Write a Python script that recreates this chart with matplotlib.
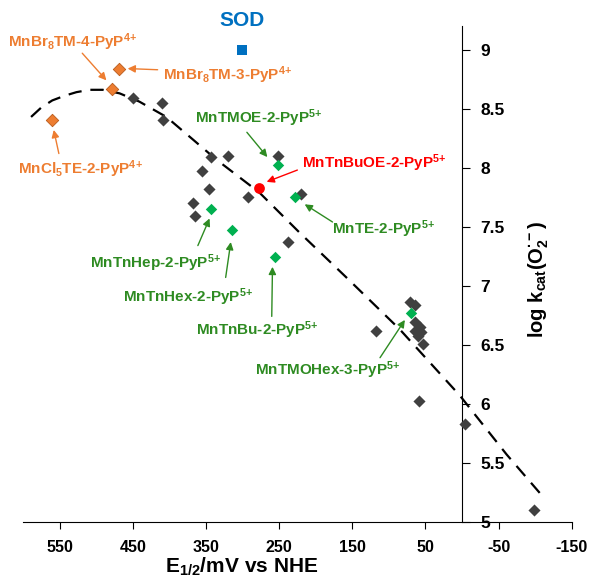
import numpy as np
import matplotlib
matplotlib.use("Agg")
import matplotlib.pyplot as plt

plt.rcParams['font.family'] = ['Liberation Sans', 'DejaVu Sans']
plt.rcParams['font.weight'] = 'bold'
plt.rcParams['axes.labelweight'] = 'bold'
plt.rcParams['mathtext.fontset'] = 'custom'
plt.rcParams['mathtext.rm'] = 'Liberation Sans:bold'
plt.rcParams['mathtext.bf'] = 'Liberation Sans:bold'
plt.rcParams['mathtext.it'] = 'Liberation Sans:bold'
plt.rcParams['mathtext.default'] = 'bf'

# ---------- datos ----------
# E1/2 (mV vs NHE) y log kcat de las porfirinas "genericas"
e_other = [450, 410, 409, 343, 320, 356, 346, 293, 368, 365, 238, 251, 220,
           118, 71.5, 64.6, 64.6, 57.8, 64.6, 55.5, 60.5, 53.7, 59, -4, -99]
k_other = [8.59, 8.55, 8.40, 8.09, 8.10, 7.97, 7.82, 7.75, 7.70, 7.59, 7.37, 8.10, 7.78,
           6.62, 6.86, 6.84, 6.69, 6.65, 6.62, 6.61, 6.57, 6.51, 6.02, 5.83, 5.10]

# halogenadas (naranja)
orange_names = [r"MnBr$_8$TM-4-PyP$^{4\!+}$", r"MnBr$_8$TM-3-PyP$^{4\!+}$", r"MnCl$_5$TE-2-PyP$^{4\!+}$"]
e_orange = [479, 469, 561]
k_orange = [8.67, 8.84, 8.40]

# alquil / alcoxi piridil (verde)
green_names = [r"MnTMOE-2-PyP$^{5\!+}$", r"MnTE-2-PyP$^{5\!+}$", r"MnTnHep-2-PyP$^{5\!+}$",
               r"MnTnHex-2-PyP$^{5\!+}$", r"MnTnBu-2-PyP$^{5\!+}$", r"MnTMOHex-3-PyP$^{5\!+}$"]
e_green = [252, 228, 343.5, 314.5, 255, 70]
k_green = [8.02, 7.75, 7.65, 7.47, 7.24, 6.77]

red_name = r"MnTnBuOE-2-PyP$^{5\!+}$"
e_red = [278]
k_red = [7.83]

e_sod = [301]
k_sod = [9.0]

# curva de tendencia
e_fit = [589, 575, 560, 543, 527, 509, 491, 468, 441, 404, 368, 336, 277, 222, 158, 85, 3, -61, -111]
k_fit = [8.43, 8.51, 8.57, 8.61, 8.64, 8.66, 8.66, 8.63, 8.56, 8.43, 8.24, 8.07, 7.79, 7.45, 7.07, 6.63, 6.07, 5.57, 5.21]

ORANGE = '#ED7D31'
GREEN_TXT = '#2E8B22'
GREEN_MK = '#00B050'
RED = '#FF0000'
BLUE = '#0070C0'
DARK = '#404040'

# ---------- figura ----------
fig = plt.figure(figsize=(5.9, 5.77), dpi=100)
ax = fig.add_axes([0.039, 0.0958, 0.930, 0.859])

ax.plot(e_fit, k_fit, ls=(0, (6, 4)), color='black', lw=1.6, zorder=2)
ax.scatter(e_other, k_other, marker='D', s=38, color=DARK, zorder=3, linewidths=0)
ax.scatter(e_orange, k_orange, marker='D', s=40, color=ORANGE, edgecolors='#B85A1A',
           linewidths=0.6, zorder=3)
ax.scatter(e_green, k_green, marker='D', s=34, color=GREEN_MK, zorder=4, linewidths=0)
ax.scatter(e_red, k_red, marker='o', s=60, color=RED, zorder=4, linewidths=0)
ax.scatter(e_sod, k_sod, marker='s', s=55, color=BLUE, zorder=4, linewidths=0)

ax.text(e_sod[0], 9.25, "SOD", color=BLUE, fontsize=15, ha='center', va='center')

# etiquetas: (texto, color, pos texto, cola flecha, cabeza flecha)
labels = [
    (orange_names[0], ORANGE, (620, 9.06), (519, 8.97), (486, 8.74)),
    (orange_names[1], ORANGE, (409, 8.78), (416, 8.83), (457, 8.84)),
    (orange_names[2], ORANGE, (607, 7.99), (551, 8.12), (558, 8.32)),
    (green_names[0], GREEN_TXT, (365, 8.42), (294, 8.30), (266, 8.09)),
    (red_name, RED, (218, 8.04), (225, 7.98), (267, 7.88)),
    (green_names[1], GREEN_TXT, (178, 7.48), (177, 7.54), (215, 7.69)),
    (green_names[2], GREEN_TXT, (509, 7.19), (361, 7.34), (345, 7.57)),
    (green_names[3], GREEN_TXT, (464, 6.90), (323, 7.07), (316, 7.37)),
    (green_names[4], GREEN_TXT, (363, 6.62), (260, 6.74), (259, 7.16)),
    (green_names[5], GREEN_TXT, (283, 6.28), (112, 6.39), (78, 6.71)),
]
for txt, col, pos, tail, head in labels:
    ax.text(pos[0], pos[1], txt, color=col, fontsize=11, ha='left', va='center')
    ax.annotate('', xy=head, xytext=tail,
                arrowprops=dict(arrowstyle='-|>', color=col, lw=1.0,
                                mutation_scale=11, shrinkA=0, shrinkB=0))

# ---------- ejes ----------
ax.set_xlim(600, -150)
ax.set_ylim(5, 9.2)
ax.set_xticks([550, 450, 350, 250, 150, 50, -50, -150])
ax.set_xticklabels(['550', '450', '350', '250', '150', '50', '-50', '-150'], fontweight='bold')
ax.set_yticks([5, 5.5, 6, 6.5, 7, 7.5, 8, 8.5, 9])
ax.set_yticklabels(['5', '5.5', '6', '6.5', '7', '7.5', '8', '8.5', '9'], fontweight='bold')

ax.spines['top'].set_visible(False)
ax.spines['left'].set_visible(False)
ax.spines['right'].set_position(('data', 0))
ax.yaxis.tick_right()
ax.tick_params(axis='y', direction='out', length=6, pad=7, labelsize=12.5)
ax.tick_params(axis='x', direction='out', length=5, pad=8, labelsize=11.5)

ax.set_xlabel(r"E$_{1/2}$/mV vs NHE", fontsize=15, fontweight='bold')
ax.xaxis.set_label_coords(0.399, -0.068)
ax.yaxis.set_label_position('right')
ax.set_ylabel("log k$_{cat}$(O$_2^{\u00b7-}$)", fontsize=14.5, fontweight='bold')
ax.yaxis.set_label_coords(0.918, 0.488)

fig.savefig("out.png", dpi=100)
